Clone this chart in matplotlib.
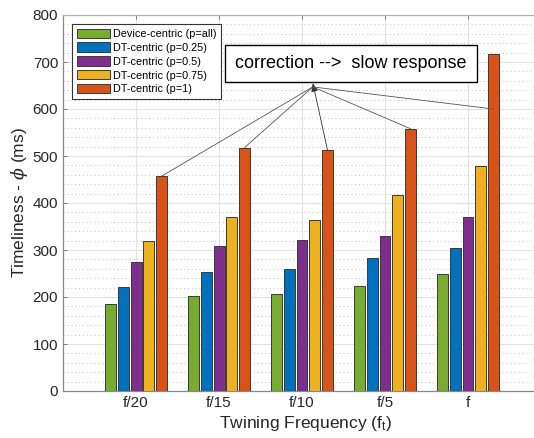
import matplotlib
matplotlib.use("Agg")
import matplotlib.pyplot as plt
import numpy as np
from matplotlib.ticker import MultipleLocator

plt.rcParams['font.family'] = ['Liberation Sans', 'DejaVu Sans']
plt.rcParams['mathtext.fontset'] = 'custom'
plt.rcParams['mathtext.rm'] = 'Liberation Sans'
plt.rcParams['mathtext.it'] = 'DejaVu Serif:italic'

categories = ["f/20", "f/15", "f/10", "f/5", "f"]
series_names = ["Device-centric (p=all)", "DT-centric (p=0.25)", "DT-centric (p=0.5)",
                "DT-centric (p=0.75)", "DT-centric (p=1)"]
device_centric = [185, 202, 206, 223, 250]
dt_p025 = [221, 254, 259, 282, 305]
dt_p05 = [275, 308, 321, 330, 370]
dt_p075 = [320, 371, 363, 418, 479]
dt_p1 = [457, 518, 512, 558, 718]
series_values = [device_centric, dt_p025, dt_p05, dt_p075, dt_p1]
colors = ["#77AC30", "#0072BD", "#7E2F8E", "#EDB120", "#D95319"]

annotation_text = "correction -->  slow response"
annotation_targets = [457, 518, 512, 558, 600]

fig = plt.figure(figsize=(5.34, 4.38), dpi=100)
ax = fig.add_axes([63/534, 47/438, (548-63)/534, 376/438])

x = np.arange(1, len(categories) + 1)
step = 0.154
width = 0.132
for i, (vals, name, c) in enumerate(zip(series_values, series_names, colors)):
    ax.bar(x + (i - 2) * step, vals, width, color=c, edgecolor="#3a3a3a",
           linewidth=0.7, label=name, zorder=3)

ax.set_ylim(0, 800)
ax.set_xlim(0.12, 1 + (548 - 136) / 83)
ax.set_xticks(x)
ax.set_xticklabels(categories)
ax.yaxis.set_major_locator(MultipleLocator(100))
ax.yaxis.set_minor_locator(MultipleLocator(20))
ax.grid(True, which="major", color="#e2e2e2", linewidth=0.8, zorder=0)
ax.grid(True, which="minor", axis="y", color="#c4c4c4", linestyle=(0, (1, 3)),
        linewidth=0.7, zorder=0)
ax.set_axisbelow(True)
ax.tick_params(which="both", direction="in", top=True, right=True, color="#777777",
               labelsize=11, labelcolor="#262626", length=3, width=0.7)
ax.tick_params(which="minor", length=0)
for s in ax.spines.values():
    s.set_color("#888888")
    s.set_linewidth(0.9)
ax.spines["top"].set_color("#b0b0b0")

ax.set_ylabel(r"Timeliness - $\it{\phi}$ (ms)", fontsize=12.5, color="#262626", labelpad=2)
ax.set_xlabel(r"Twining Frequency (f$_\mathrm{t}$)", fontsize=12.5, color="#262626", labelpad=3)

leg = ax.legend(loc="upper left", fontsize=7.8, fancybox=False, framealpha=1,
                edgecolor="#333333", handlelength=3.1, handleheight=0.95,
                labelspacing=0.32, handletextpad=0.3, borderpad=0.4,
                borderaxespad=0.85)
leg.get_frame().set_linewidth(0.8)

# annotation: text box and lines towards the DT-centric (p=1) bars
origin = (3.13, 655)
ax.text(3.59, 696, annotation_text, fontsize=13, ha="center", va="center",
        color="black", zorder=6,
        bbox=dict(boxstyle="square,pad=0.55", facecolor="white",
                  edgecolor="black", linewidth=1.0))
for j, (xc, tv) in enumerate(zip(x, annotation_targets)):
    bx = xc + 2 * step
    if j == 2:
        ax.annotate("", xy=origin, xytext=(bx, tv),
                    arrowprops=dict(arrowstyle="-|>,head_length=0.5,head_width=0.2",
                                    color="#333333", linewidth=0.6,
                                    shrinkA=0, shrinkB=0), zorder=5)
    else:
        ax.plot([bx, origin[0]], [tv, origin[1] - 8], color="#555555",
                linewidth=0.6, zorder=5)

fig.savefig("out.png", dpi=100)
